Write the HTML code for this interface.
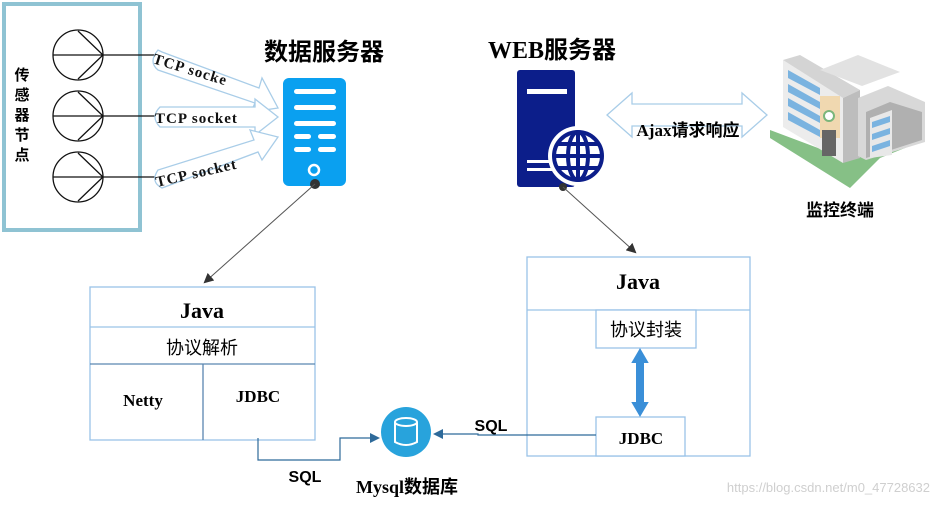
<!DOCTYPE html>
<html><head><meta charset="utf-8"><style>
body{margin:0;background:#fff;}
svg{display:block;font-family:"Liberation Serif","Noto Serif CJK SC",serif;}
</style></head><body>
<svg width="940" height="506" viewBox="0 0 940 506" xmlns="http://www.w3.org/2000/svg">
<defs>
<marker id="ah" markerWidth="10" markerHeight="10" refX="8" refY="5" orient="auto" markerUnits="userSpaceOnUse"><path d="M0,0 L10,5 L0,10 z" fill="#333"/></marker>
<marker id="bh" markerWidth="10" markerHeight="10" refX="8" refY="5" orient="auto" markerUnits="userSpaceOnUse"><path d="M0,0 L10,5 L0,10 z" fill="#2e6a9a"/></marker>
</defs>
<!-- sensor box -->
<rect x="4" y="4" width="136" height="226" fill="#fff" stroke="#8fc3d3" stroke-width="4"/>
<g font-size="15" font-weight="bold" font-family="Liberation Sans,Noto Sans CJK SC,sans-serif" text-anchor="middle">
<text x="22" y="80">传</text><text x="22" y="100">感</text><text x="22" y="120">器</text><text x="22" y="140">节</text><text x="22" y="160">点</text>
</g>
<g stroke="#111" stroke-width="1.3" fill="none">
<circle cx="78" cy="55" r="25"/><path d="M53,55 H155 M78,31 L103,55 L78,79"/>
<circle cx="78" cy="116" r="25"/><path d="M53,116 H155 M78,92 L103,116 L78,140"/>
<circle cx="78" cy="177" r="25"/><path d="M53,177 H155 M78,153 L103,177 L78,201"/>
</g>
<!-- block arrows -->
<g fill="#fff" stroke="#a9cde8" stroke-width="1.3">
<path d="M158,50 Q148,62 158,70 L255,103 L251,112 L278,108 L262,78 L259,88 L162,52 Z"/>
<path d="M160,107 Q150,117 160,127 L255,127 L255,135 L278,117 L255,99 L255,107 Z"/>
<path d="M158,170 Q150,182 162,188 L258,152 L262,160 L278,137 L250,130 L254,140 Z"/>
</g>
<g font-size="15" font-weight="bold" fill="#111" font-family="Liberation Serif,serif" letter-spacing="1">
<text transform="translate(152,63) rotate(17)">TCP  socke</text>
<text x="155" y="123">TCP  socket</text>
<text transform="translate(157,187) rotate(-13)">TCP  socket</text>
</g>
<!-- data server -->
<text x="324" y="60" font-size="24" font-weight="bold" text-anchor="middle" font-family="Liberation Sans,Noto Sans CJK SC,sans-serif">数据服务器</text>
<rect x="283" y="78" width="63" height="108" rx="6" fill="#0aa0f0"/>
<g fill="#fff"><rect x="294" y="89" width="42" height="5" rx="2.5"/><rect x="294" y="105" width="42" height="5" rx="2.5"/><rect x="294" y="121" width="42" height="5" rx="2.5"/><rect x="294" y="134" width="17" height="5" rx="2.5"/><rect x="318" y="134" width="18" height="5" rx="2.5"/><rect x="294" y="147" width="17" height="5" rx="2.5"/><rect x="318" y="147" width="18" height="5" rx="2.5"/></g>
<circle cx="314" cy="170" r="5" fill="none" stroke="#fff" stroke-width="2.5"/>
<circle cx="315" cy="184" r="5" fill="#333"/>
<line x1="315" y1="184" x2="205" y2="282" stroke="#555" stroke-width="1" marker-end="url(#ah)"/>
<!-- web server -->
<text x="552" y="58" font-size="24" font-weight="bold" text-anchor="middle" font-family="Liberation Serif,Noto Sans CJK SC,serif">WEB服务器</text>
<rect x="517" y="70" width="58" height="117" rx="3" fill="#0c1e8a"/>
<rect x="527" y="89" width="40" height="5" fill="#fff"/>
<rect x="527" y="160" width="25" height="3" fill="#fff"/><rect x="527" y="168" width="25" height="3" fill="#fff"/>
<circle cx="578" cy="156" r="30" fill="#fff"/>
<g fill="none" stroke="#0c1e8a" stroke-width="4"><circle cx="578" cy="156" r="24"/><ellipse cx="578" cy="156" rx="10" ry="24"/><path d="M554,156 H602 M558,144 H598 M558,168 H598 M578,132 V180"/></g>
<circle cx="563" cy="187" r="4" fill="#333"/>
<line x1="563" y1="187" x2="635" y2="252" stroke="#555" stroke-width="1" marker-end="url(#ah)"/>
<!-- ajax arrow -->
<path d="M607,115 L632,93 L632,104 L742,104 L742,93 L767,115 L742,137 L742,126 L632,126 L632,137 Z" fill="#fff" stroke="#a9cde8" stroke-width="1.3"/>
<text x="688" y="136" font-size="17" font-weight="bold" text-anchor="middle" font-family="Liberation Serif,Noto Sans CJK SC,serif">Ajax请求响应</text>
<!-- building -->
<path d="M770,130 L850,160 L925,133 L925,140 L880,158 L850,188 L770,138 Z" fill="#86c086"/>
<path d="M783,60 L843,98 L843,163 L783,127 Z" fill="#ececec"/>
<path d="M783,60 L800,55 L860,90 L843,98 Z" fill="#d4d4d4"/>
<path d="M843,98 L860,90 L860,158 L843,163 Z" fill="#bdbdbd"/>
<path d="M820,70 L858,55 L900,72 L862,86 Z" fill="#e2e2e2"/>
<path d="M858,98 L888,86 L925,102 L925,142 L866,160 L858,156 Z" fill="#d8d8d8"/>
<path d="M866,112 L890,102 L922,112 L922,140 L866,158 Z" fill="#b0b0b0"/>
<path d="M870,118 L892,110 L892,155 L870,158 Z" fill="#e8e8e8"/>
<g fill="#7ab3e0"><path d="M788,70 L820,88 L820,95 L788,78 Z"/><path d="M788,84 L820,102 L820,109 L788,92 Z"/><path d="M788,98 L820,116 L820,123 L788,106 Z"/><path d="M788,112 L820,130 L820,137 L788,120 Z"/><path d="M872,122 L890,116 L890,122 L872,128 Z"/><path d="M872,134 L890,128 L890,134 L872,140 Z"/><path d="M872,146 L890,140 L890,146 L872,152 Z"/></g>
<rect x="820" y="96" width="20" height="42" fill="#f0d8b0"/>
<rect x="822" y="130" width="14" height="26" fill="#666"/>
<circle cx="829" cy="116" r="5" fill="#fff" stroke="#7bb67b" stroke-width="2"/>
<text x="840" y="216" font-size="17" font-weight="bold" text-anchor="middle" font-family="Liberation Sans,Noto Sans CJK SC,sans-serif">监控终端</text>
<!-- left java box -->
<g fill="none" stroke="#9ac3e8" stroke-width="1.3">
<rect x="90" y="287" width="225" height="153"/>
<line x1="90" y1="327" x2="315" y2="327"/>
</g>
<line x1="90" y1="364" x2="315" y2="364" stroke="#5a86b0" stroke-width="1.3"/>
<line x1="203" y1="364" x2="203" y2="440" stroke="#5a86b0" stroke-width="1.3"/>
<text x="202" y="318" font-size="22" font-weight="bold" text-anchor="middle">Java</text>
<text x="202" y="354" font-size="18" text-anchor="middle" font-family="Liberation Sans,Noto Sans CJK SC,sans-serif">协议解析</text>
<text x="143" y="406" font-size="17" font-weight="bold" text-anchor="middle">Netty</text>
<text x="258" y="402" font-size="17" font-weight="bold" text-anchor="middle">JDBC</text>
<!-- right java box -->
<g fill="none" stroke="#9ac3e8" stroke-width="1.3">
<rect x="527" y="257" width="223" height="199"/>
<line x1="527" y1="310" x2="750" y2="310"/>
<rect x="596" y="310" width="100" height="38" fill="#fff"/>
<rect x="596" y="417" width="89" height="39" fill="#fff"/>
</g>
<text x="638" y="289" font-size="22" font-weight="bold" text-anchor="middle">Java</text>
<text x="646" y="336" font-size="18" text-anchor="middle" font-family="Liberation Sans,Noto Sans CJK SC,sans-serif">协议封装</text>
<text x="641" y="444" font-size="17" font-weight="bold" text-anchor="middle">JDBC</text>
<path d="M640,350 L647,362 L643,362 L643,403 L647,403 L640,415 L633,403 L637,403 L637,362 L633,362 Z" fill="#3a8fd8" stroke="#3a8fd8" stroke-width="2"/>
<!-- DB -->
<circle cx="406" cy="432" r="25" fill="#28a3dc"/>
<g fill="none" stroke="#fff" stroke-width="2"><ellipse cx="406" cy="422" rx="11" ry="4"/><path d="M395,422 V442 Q406,448 417,442 V422"/></g>
<path d="M258,438 V460 H340 V438 H378" fill="none" stroke="#2e6a9a" stroke-width="1.2" marker-end="url(#bh)"/>
<path d="M596,435 H478 V434 H435" fill="none" stroke="#2e6a9a" stroke-width="1.2" marker-end="url(#bh)"/>
<text x="305" y="482" font-size="16" font-weight="bold" text-anchor="middle" font-family="Liberation Sans,sans-serif">SQL</text>
<text x="491" y="431" font-size="16" font-weight="bold" text-anchor="middle" font-family="Liberation Sans,sans-serif">SQL</text>
<text x="407" y="493" font-size="18" font-weight="bold" text-anchor="middle" font-family="Liberation Serif,Noto Sans CJK SC,serif">Mysql数据库</text>
<text x="930" y="492" font-size="13" fill="#cfcfcf" text-anchor="end" font-family="Liberation Sans,sans-serif">https://blog.csdn.net/m0_47728632</text>
</svg>
</body></html>
